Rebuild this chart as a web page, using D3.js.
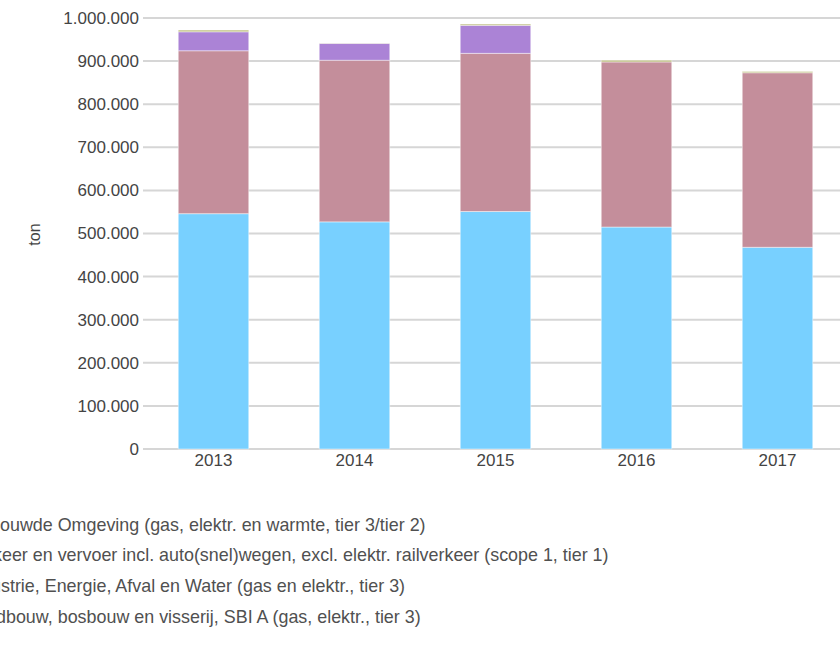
<!DOCTYPE html>
<html>
<head>
<meta charset="utf-8">
<script src="https://cdn.jsdelivr.net/npm/d3@7"></script>
<style>
  html, body { margin: 0; padding: 0; background: #fff; overflow: hidden; }
  svg { display: block; font-family: "Liberation Sans", Arial, sans-serif; }
</style>
</head>
<body>
<svg id="chart" width="840" height="657"></svg>
<script>
const years = ["2013", "2014", "2015", "2016", "2017"];
const seriesNames = [
  "Gebouwde Omgeving (gas, elektr. en warmte, tier 3/tier 2)",
  "Verkeer en vervoer incl. auto(snel)wegen, excl. elektr. railverkeer (scope 1, tier 1)",
  "Industrie, Energie, Afval en Water (gas en elektr., tier 3)",
  "Landbouw, bosbouw en visserij, SBI A (gas, elektr., tier 3)"
];
const gebouwd   = [546000, 527000, 551000, 515000, 468000];
const verkeer   = [378000, 375000, 367000, 383000, 405000];
const industrie = [44000, 39000, 65000, 0, 0];
const landbouw  = [4000, 500, 3000, 4000, 3000];
const yTicks = [0, 100000, 200000, 300000, 400000, 500000, 600000, 700000, 800000, 900000, 1000000];
const colors = ["#78d0ff", "#c48e9b", "#ab83d6", "#bcbc7c"];

(function () {
const seriesValues = [gebouwd, verkeer, industrie, landbouw];
const keys = ["s0", "s1", "s2", "s3"];
const table = years.map((yr, i) => {
  const row = { year: yr };
  keys.forEach((k, j) => row[k] = seriesValues[j][i]);
  return row;
});

const svg = d3.select("#chart");
const mLeft = 143, mRight = 848, mTop = 18, mBottom = 449;
const FONT = "Liberation Sans, Arial, sans-serif";

const nl = d3.formatLocale({ decimal: ",", thousands: ".", grouping: [3], currency: ["€", ""] });
const fmt = nl.format(",d");

const x = d3.scaleBand().domain(years).range([mLeft, mRight]).paddingInner(0.5).paddingOuter(0.25);
const y = d3.scaleLinear().domain([0, 1000000]).range([mBottom, mTop]);

svg.append("g")
  .selectAll("line").data(yTicks).join("line")
  .attr("x1", mLeft).attr("x2", mRight)
  .attr("y1", d => y(d)).attr("y2", d => y(d))
  .attr("stroke", "#d6d6d6").attr("stroke-width", 2);

const yAxis = d3.axisLeft(y).tickValues(yTicks).tickFormat(fmt).tickSize(0).tickPadding(4);
const gy = svg.append("g").attr("transform", `translate(${mLeft},0)`).call(yAxis);
gy.select(".domain").remove();
gy.selectAll("text").attr("font-size", 17).attr("fill", "#444")
  .attr("font-family", FONT);

const xAxis = d3.axisBottom(x).tickSize(0).tickPadding(5);
const gx = svg.append("g").attr("transform", `translate(0,${mBottom})`).call(xAxis);
gx.select(".domain").remove();
gx.selectAll("text").attr("font-size", 17).attr("fill", "#444")
  .attr("font-family", FONT);

svg.append("text")
  .attr("transform", `translate(40,${(mTop + mBottom) / 2 + 1}) rotate(-90)`)
  .attr("text-anchor", "middle")
  .attr("font-size", 16).attr("fill", "#444")
  .text("ton");

const stack = d3.stack().keys(keys)(table);
svg.append("g").selectAll("g").data(stack).join("g")
  .attr("fill", (d, i) => colors[i])
  .selectAll("rect").data(d => d).join("rect")
  .attr("x", d => x(d.data.year))
  .attr("width", x.bandwidth())
  .attr("y", d => y(d[1]))
  .attr("height", d => Math.max(0, y(d[0]) - y(d[1])))
  .attr("stroke", "#ffffff").attr("stroke-opacity", 0.45).attr("stroke-width", 1);

// legend: starts beyond the left edge, as in the reference
const legend = svg.append("g");
const legendY = [525, 555, 586, 617];
const items = legend.selectAll("g").data(seriesNames).join("g")
  .attr("transform", (d, i) => `translate(0,${legendY[i]})`);
const LF = 17.9;
const txt = items.append("text")
  .attr("dy", "0.35em")
  .attr("font-size", LF).attr("fill", "#505050")
  .attr("font-family", FONT)
  .text(d => d);
const probe = svg.append("text").attr("font-size", LF).attr("font-family", FONT).text("Geb");
const prefixW = probe.node().getComputedTextLength();
probe.remove();
const startX = -prefixW;
txt.attr("x", startX);
items.append("rect")
  .attr("x", startX - 24).attr("y", -7).attr("width", 14).attr("height", 14)
  .attr("fill", (d, i) => colors[i]);
})();
</script>
</body>
</html>
